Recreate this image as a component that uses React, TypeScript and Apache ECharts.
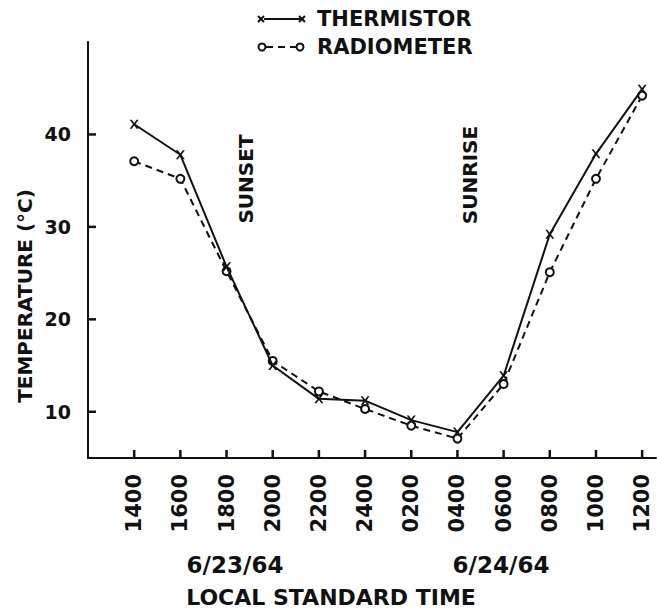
import React, { useEffect, useRef } from "react";
import * as echarts from "echarts";

const categories = ["1400", "1600", "1800", "2000", "2200", "2400", "0200", "0400", "0600", "0800", "1000", "1200"];
const thermistor = [41.1, 37.8, 25.7, 15.0, 11.4, 11.2, 9.1, 7.8, 13.9, 29.2, 37.9, 44.9];
const radiometer = [37.1, 35.2, 25.2, 15.5, 12.2, 10.3, 8.5, 7.1, 13.0, 25.1, 35.2, 44.2];
const yTickValues = [10, 20, 30, 40];
const seriesNames = ["THERMISTOR", "RADIOMETER"];
const dateLabels = ["6/23/64", "6/24/64"];
const eventLabels = ["SUNSET", "SUNRISE"];
const xTitle = "LOCAL STANDARD TIME";
const yTitle = "TEMPERATURE (°C)";

const INK = "#111";
const FONT = "DejaVu Sans";
const X_SYMBOL = "path://M0,0L2.2,0L5,3.6L7.8,0L10,0L6.3,5L10,10L7.8,10L5,6.4L2.2,10L0,10L3.7,5Z";
const X_MIN = -1;
const X_MAX = 11.3;
const Y_MIN = 5;
const Y_MAX = 50;
const TICK_LEN = 8;

export default function App() {
  const ref = useRef<HTMLDivElement>(null);
  useEffect(() => {
    if (!ref.current) return;
    const chart = echarts.init(ref.current, null, { renderer: "svg" });
    const idx = categories.map((_, i) => i);
    const txt = (x: number, y: number, text: string, size: number, rot = 0, align = "center") => ({
      type: "text",
      x,
      y,
      rotation: rot,
      style: {
        text,
        fill: INK,
        font: `bold ${size}px "${FONT}"`,
        align,
        verticalAlign: "middle",
      },
    });
    const seg = (x1: number, y1: number, x2: number, y2: number, w = 2) => ({
      type: "line",
      z: 10,
      shape: { x1, y1, x2, y2 },
      style: { stroke: INK, lineWidth: w },
    });
    const xMark = (cx: number, cy: number) => [seg(cx - 3, cy - 3, cx + 3, cy + 3), seg(cx - 3, cy + 3, cx + 3, cy - 3)];
    chart.setOption({
      animation: false,
      backgroundColor: "#fff",
      grid: { left: 88, right: 1, top: 42, bottom: 154 },
      xAxis: {
        type: "value",
        min: X_MIN,
        max: X_MAX,
        interval: 1,
        axisLine: { show: true, onZero: false, lineStyle: { color: INK, width: 2 } },
        axisTick: { show: false },
        axisLabel: {
          customValues: idx,
          rotate: 90,
          margin: 16,
          color: INK,
          fontFamily: FONT,
          fontWeight: "bold",
          fontSize: 21,
          formatter: (v: number) => categories[Math.round(v)] ?? "",
        },
        splitLine: { show: false },
      },
      yAxis: {
        type: "value",
        min: Y_MIN,
        max: Y_MAX,
        interval: 5,
        axisLine: { show: true, onZero: false, lineStyle: { color: INK, width: 2 } },
        axisTick: { show: false },
        axisLabel: {
          customValues: yTickValues,
          margin: 17,
          color: INK,
          fontFamily: FONT,
          fontWeight: "bold",
          fontSize: 19,
        },
        splitLine: { show: false },
      },
      series: [
        {
          name: seriesNames[0],
          type: "line",
          data: thermistor.map((v, i) => [i, v]),
          symbol: X_SYMBOL,
          symbolSize: 9,
          itemStyle: { color: INK },
          lineStyle: { color: INK, width: 2, type: "solid" },
          z: 3,
        },
        {
          name: seriesNames[1],
          type: "line",
          data: radiometer.map((v, i) => [i, v]),
          symbol: "emptyCircle",
          symbolSize: 8,
          itemStyle: { color: INK, borderColor: INK, borderWidth: 2 },
          lineStyle: { color: INK, width: 2, type: [7, 5] },
          z: 2,
        },
      ],
    });

    // tick marks positioned through the axes' own scales
    const ticks: any[] = [];
    const yBase = chart.convertToPixel({ yAxisIndex: 0 }, Y_MIN) as number;
    const xBase = chart.convertToPixel({ xAxisIndex: 0 }, X_MIN) as number;
    idx.forEach((i) => {
      const px = chart.convertToPixel({ xAxisIndex: 0 }, i) as number;
      if (Number.isFinite(px) && Number.isFinite(yBase)) ticks.push(seg(px, yBase, px, yBase - TICK_LEN, 2.5));
    });
    yTickValues.forEach((v) => {
      const py = chart.convertToPixel({ yAxisIndex: 0 }, v) as number;
      if (Number.isFinite(py) && Number.isFinite(xBase)) ticks.push(seg(xBase, py, xBase + TICK_LEN, py, 2.5));
    });

    chart.setOption({
      graphic: [
        ...ticks,
        seg(264, 19, 300, 19),
        ...xMark(261, 19),
        ...xMark(302, 19),
        txt(317, 19, seriesNames[0], 21, 0, "left"),
        { type: "line", shape: { x1: 266, y1: 47, x2: 297, y2: 47 }, style: { stroke: INK, lineWidth: 2, lineDash: [7, 5] } },
        { type: "circle", shape: { cx: 262, cy: 47, r: 3.5 }, style: { fill: "#fff", stroke: INK, lineWidth: 2 } },
        { type: "circle", shape: { cx: 300, cy: 47, r: 3.5 }, style: { fill: "#fff", stroke: INK, lineWidth: 2 } },
        txt(317, 47, seriesNames[1], 21, 0, "left"),
        txt(246, 179, eventLabels[0], 20, Math.PI / 2),
        txt(470, 175, eventLabels[1], 20, Math.PI / 2),
        txt(25, 296, yTitle, 20, Math.PI / 2),
        txt(235, 565, dateLabels[0], 23),
        txt(501, 565, dateLabels[1], 23),
        txt(331, 597, xTitle, 22),
      ],
    });
    return () => chart.dispose();
  }, []);
  return <div ref={ref} style={{ position: "fixed", left: 0, top: 0, width: 657, height: 612 }} />;
}
